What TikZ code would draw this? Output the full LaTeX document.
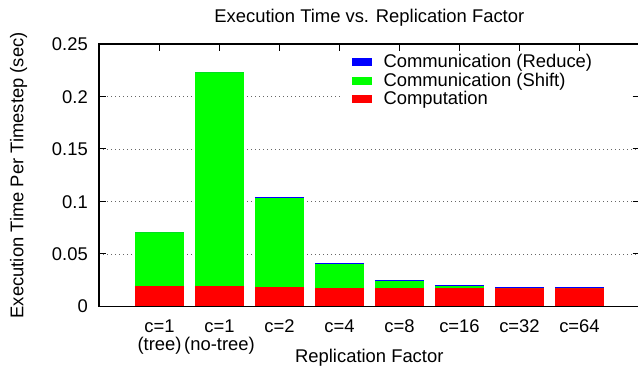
\documentclass[tikz,border=0pt]{standalone}
\usepackage{fontspec}
\setmainfont{Liberation Sans}
\definecolor{cred}{RGB}{255,0,0}
\definecolor{cgreen}{RGB}{0,255,0}
\definecolor{cblue}{RGB}{0,0,255}
\begin{document}
\begin{tikzpicture}[x=1pt,y=-1pt,
  lbl/.style={inner sep=0pt,font=\fontsize{18.4}{18.4}\selectfont},
  gridline/.style={gray!80!black,line width=0.9pt,dash pattern=on 1.3pt off 2.7pt},
  axisline/.style={black,line width=1.3pt},
  tickline/.style={black,line width=1pt}]
\useasboundingbox (0,0) rectangle (638,366);
\def\yz{306.7}
% grid
\foreach \gy in {254,201.7,149,96.7}{
  \draw[gridline] (99,\gy) -- (639.5,\gy);
}
% opaque legend box
\fill[white] (342,52) rectangle (632,108);
% bars: center, red top, green top, blue top
\foreach \cx/\rt/\gt/\bt in {159.5/286/232/232, 219.5/286/72/72, 279.5/287/198/197, 339.5/287.7/263.7/262.7, 399.5/288/281/280, 459.5/288/286/285, 519.5/287.7/287.7/286.7, 579.5/287.7/287.7/286.7}{
  \fill[cred] (\cx-24.5,\yz) rectangle (\cx+24.5,\rt);
  \fill[cgreen] (\cx-24.5,\rt) rectangle (\cx+24.5,\gt);
  \fill[cblue] (\cx-24.5,\gt) rectangle (\cx+24.5,\bt);
}
% axes
\draw[axisline] (99,\yz) -- (99,44) -- (639.5,44) -- (639.5,\yz) -- cycle;
\foreach \gy in {254,201.7,149,96.7}{
  \draw[tickline] (99,\gy) -- (106,\gy);
  \draw[tickline] (632.5,\gy) -- (639.5,\gy);
}
\foreach \cx in {159.5,219.5,279.5,339.5,399.5,459.5,519.5,579.5}{
  \draw[tickline] (\cx,44) -- (\cx,51);
}
% y tick labels
\node[lbl,anchor=base east] (y0) at (88,312.7) {0};
\node[lbl,anchor=base east] (y1) at (88,260.5) {0.05};
\node[lbl,anchor=base east] (y2) at (88,208.1) {0.1};
\node[lbl,anchor=base east] (y3) at (88,155.4) {0.15};
\node[lbl,anchor=base east] (y4) at (88,103.1) {0.2};
\node[lbl,anchor=base east] (y5) at (88,50.5) {0.25};
% x tick labels
\node[lbl,anchor=base] (x1) at (159.5,332.7) {c=1};
\node[lbl,anchor=base] (x1b) at (159.5,350.7) {(tree)};
\node[lbl,anchor=base] (x2) at (219.5,332.7) {c=1};
\node[lbl,anchor=base] (x2b) at (219.5,350.7) {(no-tree)};
\node[lbl,anchor=base] (x3) at (279.5,332.7) {c=2};
\node[lbl,anchor=base] (x4) at (339.5,332.7) {c=4};
\node[lbl,anchor=base] (x5) at (399.5,332.7) {c=8};
\node[lbl,anchor=base] (x6) at (459.5,332.7) {c=16};
\node[lbl,anchor=base] (x7) at (519.5,332.7) {c=32};
\node[lbl,anchor=base] (x8) at (579.5,332.7) {c=64};
% axis labels and title
\node[lbl,anchor=base] (xlab) at (369.3,362.7) {Replication Factor};
\node[lbl,anchor=base,rotate=90] (ylab) at (23.3,175.3) {Execution Time Per Timestep (sec)};
\node[lbl,anchor=base] (title) at (369.3,22.7) {Execution Time vs. Replication Factor};
% legend
\fill[cblue] (351.7,57.7) rectangle (372.3,66);
\fill[cgreen] (351.7,76.7) rectangle (372.3,85);
\fill[cred] (351.7,95) rectangle (372.3,103.3);
\node[lbl,anchor=base west] (k1) at (383.3,67.7) {Communication (Reduce)};
\node[lbl,anchor=base west] (k2) at (383.3,86.4) {Communication (Shift)};
\node[lbl,anchor=base west] (k3) at (383.3,105) {Computation};
\end{tikzpicture}
\end{document}
